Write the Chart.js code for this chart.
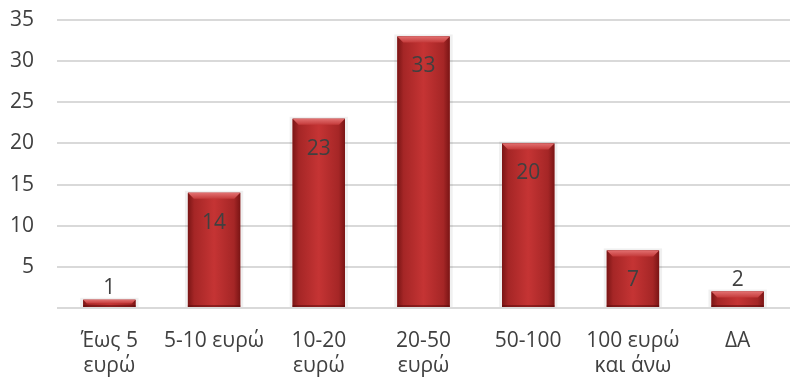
<!DOCTYPE html>
<html>
<head>
<meta charset="utf-8">
<script src="https://cdn.jsdelivr.net/npm/chart.js@4"></script>
<style>
  html, body { margin: 0; padding: 0; background: #fff; }
  #wrap { width: 794px; height: 378px; }
</style>
</head>
<body>
<div id="wrap"><canvas id="chart" width="794" height="378"></canvas></div>
<script>
// Data
let categories = [["Έως 5", "ευρώ"], "5-10 ευρώ", ["10-20", "ευρώ"], ["20-50", "ευρώ"], "50-100", ["100 ευρώ", "και άνω"], "ΔΑ"];
let values = [1, 14, 23, 33, 20, 7, 2];
let yTicks = [5, 10, 15, 20, 25, 30, 35];

let textColor = "#404040";
let fontFamily = "'Open Sans', 'Noto Sans', sans-serif";
let fontSize = 21;

// Paint each bar like a shaded cylinder with a bevelled top
let barShading = {
    id: "barShading",
    afterDatasetsDraw(chart) {
        let ctx = chart.ctx;
        let meta = chart.getDatasetMeta(0);
        meta.data.forEach((bar) => {
            let left = bar.x - bar.width / 2;
            let right = bar.x + bar.width / 2;
            let top = bar.y;
            let bottom = bar.base;
            let w = right - left;

            ctx.save();
            // soft halo
            ctx.fillStyle = "rgba(0,0,0,0.06)";
            ctx.fillRect(left - 3, top - 2, w + 6, bottom - top + 2);

            let grad = ctx.createLinearGradient(left, 0, right, 0);
            grad.addColorStop(0, "#7a1515");
            grad.addColorStop(0.12, "#a52626");
            grad.addColorStop(0.5, "#c53434");
            grad.addColorStop(0.88, "#a52626");
            grad.addColorStop(1, "#7a1515");
            ctx.fillStyle = grad;
            ctx.fillRect(left, top, w, bottom - top);

            // bevelled top
            let cap = Math.min(6, (bottom - top) / 2);
            let capGrad = ctx.createLinearGradient(0, top, 0, top + cap);
            capGrad.addColorStop(0, "#e27070");
            capGrad.addColorStop(1, "#c43a3a");
            ctx.fillStyle = capGrad;
            ctx.beginPath();
            ctx.moveTo(left, top);
            ctx.lineTo(right, top);
            ctx.lineTo(right - cap, top + cap);
            ctx.lineTo(left + cap, top + cap);
            ctx.closePath();
            ctx.fill();

            // darker bottom edge
            ctx.fillStyle = "rgba(90,10,10,0.5)";
            ctx.fillRect(left, bottom - 2, w, 2);
            ctx.restore();
        });
    }
};

// Value labels: inside near the top, or just above for short bars
let valueLabels = {
    id: "valueLabels",
    afterDatasetsDraw(chart) {
        let ctx = chart.ctx;
        let meta = chart.getDatasetMeta(0);
        ctx.save();
        ctx.font = fontSize + "px " + fontFamily;
        ctx.fillStyle = textColor;
        ctx.textAlign = "center";
        meta.data.forEach((bar, i) => {
            let h = bar.base - bar.y;
            if (h < 25) {
                ctx.textBaseline = "bottom";
                ctx.fillText(String(values[i]), bar.x, bar.y - 1);
            } else {
                ctx.textBaseline = "middle";
                ctx.fillText(String(values[i]), bar.x, bar.y + 30);
            }
        });
        ctx.restore();
    }
};

new Chart(document.getElementById("chart"), {
    type: "bar",
    data: {
        labels: categories,
        datasets: [{
            data: values,
            backgroundColor: "#b02a2a",
            barPercentage: 0.5,
            categoryPercentage: 1
        }]
    },
    options: {
        responsive: false,
        animation: false,
        layout: { padding: { top: 20, right: 4, left: 0, bottom: 0 } },
        plugins: {
            legend: { display: false },
            tooltip: { enabled: false }
        },
        scales: {
            x: {
                afterFit(scale) { scale.height = 70; },
                grid: { display: false },
                border: { display: false },
                ticks: {
                    color: textColor,
                    font: { family: fontFamily, size: fontSize, lineHeight: 1.18 },
                    padding: 13,
                    maxRotation: 0,
                    autoSkip: false
                }
            },
            y: {
                min: 0,
                max: 35,
                afterFit(scale) {
                    scale.width = 57;
                    scale.paddingTop = 0;
                    scale.paddingBottom = 0;
                },
                afterBuildTicks(scale) {
                    scale.ticks = [0].concat(yTicks).map((v) => ({ value: v }));
                },
                grid: { color: "#d9d9d9", lineWidth: 2, drawTicks: false },
                border: { display: false },
                ticks: {
                    color: textColor,
                    font: { family: fontFamily, size: fontSize },
                    padding: 23,
                    callback: (v) => (v === 0 ? "" : v)
                }
            }
        }
    },
    plugins: [barShading, valueLabels]
});
</script>
</body>
</html>
